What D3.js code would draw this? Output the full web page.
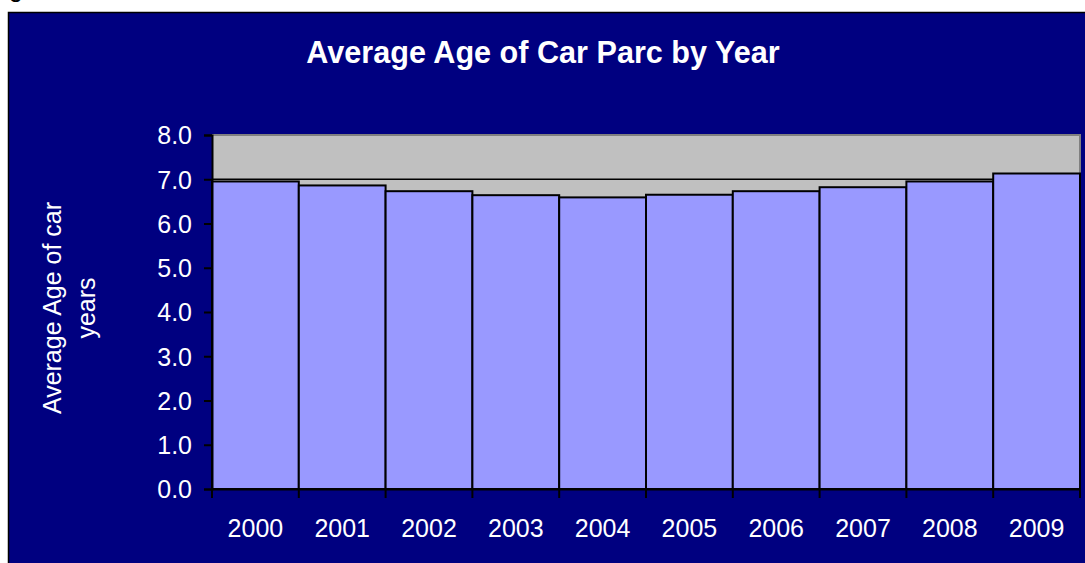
<!DOCTYPE html>
<html><head><meta charset="utf-8">
<script src="https://cdn.jsdelivr.net/npm/d3@7"></script>
<style>html,body{margin:0;padding:0;background:#fff;}svg{display:block;}</style>
</head><body>
<svg id="c" width="1085" height="563"></svg>
<script>
const years = ["2000","2001","2002","2003","2004","2005","2006","2007","2008","2009"];
const avgAge = [6.95, 6.86, 6.73, 6.64, 6.59, 6.65, 6.73, 6.82, 6.95, 7.13];
const yTicks = [0,1,2,3,4,5,6,7,8];
const title = "Average Age of Car Parc by Year";
const yTitleLines = ["Average Age of car", "years"];

const svg = d3.select("#c");
const W = 1085, H = 563;
const font = "'Liberation Sans', Arial, sans-serif";

// top cut text fragment (as in the reference)
svg.append("text").attr("x", 9).attr("y", -3).attr("font-family", font).attr("font-size", 25).attr("fill", "#000").text("g");

// chart frame
svg.append("rect").attr("x", 8.5).attr("y", 12.5).attr("width", W).attr("height", H)
  .attr("fill", "#000080").attr("stroke", "#000").attr("stroke-width", 1.5);

const L = 212, R = 1080, T = 135, B = 489;
const x = d3.scaleBand().domain(years).range([L, R]).padding(0);
const y = d3.scaleLinear().domain([0, 8]).range([B, T]);

// plot area
svg.append("rect").attr("x", L).attr("y", T).attr("width", R - L).attr("height", B - T).attr("fill", "#C0C0C0");

// gridlines
svg.append("g").selectAll("line").data(yTicks.filter(d => d > 0 && d < 8)).join("line")
  .attr("x1", L).attr("x2", R).attr("y1", d => y(d)).attr("y2", d => y(d))
  .attr("stroke", "#000").attr("stroke-width", 1.5);

// plot border (gray top/right)
svg.append("path").attr("d", `M${L},${T}H${R}V${B}`).attr("fill", "none").attr("stroke", "#808080").attr("stroke-width", 2);

// bars
svg.append("g").selectAll("rect").data(years).join("rect")
  .attr("x", d => x(d)).attr("width", x.bandwidth())
  .attr("y", (d, i) => y(avgAge[i])).attr("height", (d, i) => B - y(avgAge[i]))
  .attr("fill", "#9999FF").attr("stroke", "#000").attr("stroke-width", 2);

// y axis
const yAxis = svg.append("g").attr("transform", `translate(${L},0)`)
  .call(d3.axisLeft(y).tickValues(yTicks).tickFormat(d3.format(".1f")).tickSize(8).tickPadding(12));
yAxis.select(".domain").attr("stroke", "#000").attr("stroke-width", 2);
yAxis.selectAll(".tick line").attr("stroke", "#000").attr("stroke-width", 2);
yAxis.selectAll(".tick text").attr("fill", "#fff").attr("font-family", font).attr("font-size", 25).attr("dy", "0.35em");

// x axis
const xAxis = svg.append("g").attr("transform", `translate(0,${B})`)
  .call(d3.axisBottom(x).tickSize(0).tickPadding(30));
xAxis.select(".domain").attr("stroke", "#000").attr("stroke-width", 2);
xAxis.selectAll(".tick text").attr("fill", "#fff").attr("font-family", font).attr("font-size", 25).attr("dy", "0.71em");
// boundary ticks
const bounds = years.map(d => x(d)).concat([R]);
xAxis.append("g").selectAll("line").data(bounds).join("line")
  .attr("x1", d => d).attr("x2", d => d).attr("y1", 0).attr("y2", 9)
  .attr("stroke", "#000").attr("stroke-width", 2);

// title
svg.append("text").attr("x", 543).attr("y", 63).attr("text-anchor", "middle")
  .attr("font-family", font).attr("font-size", 30.6).attr("font-weight", "bold").attr("fill", "#fff").text(title);

// y title
const yt = [61, 95];
yTitleLines.forEach((t, i) => {
  svg.append("text").attr("transform", `translate(${yt[i]},308) rotate(-90)`).attr("text-anchor", "middle")
    .attr("font-family", font).attr("font-size", 25).attr("fill", "#fff").text(t);
});
</script>
</body></html>
